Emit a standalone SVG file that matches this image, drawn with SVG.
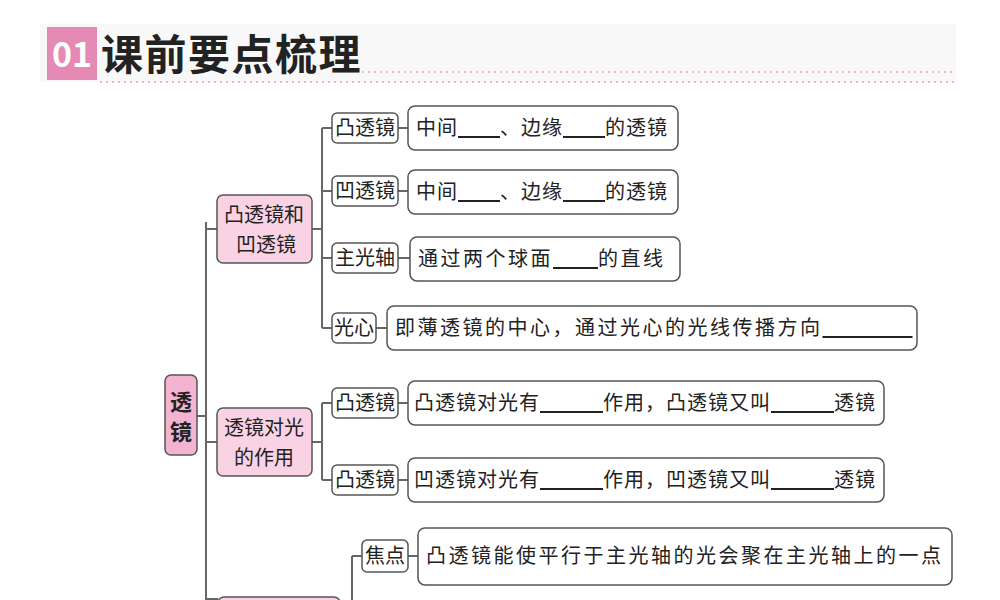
<svg xmlns="http://www.w3.org/2000/svg" width="1000" height="600" viewBox="0 0 1000 600">
<style>
text{font-family:"Noto Sans CJK SC","Liberation Sans",sans-serif;fill:#222}
.t{font-size:20px}
.k{fill:#fff;stroke:#555;stroke-width:1.5}
.p{fill:#f9d3e4;stroke:#555;stroke-width:1.5}
.c{fill:none;stroke:#666;stroke-width:2}
.u{text-decoration:underline}
.s1{letter-spacing:1px}
.s2{letter-spacing:2.5px}
</style>
<rect width="1000" height="600" fill="#fff"/>
<rect x="40" y="24" width="916" height="58" fill="#f8f8f8"/>
<g id="title">
<rect x="47" y="27" width="50" height="53" fill="#e58ab5"/>
<text x="72" y="67" text-anchor="middle" font-size="34" font-weight="bold" style="fill:#fff">01</text>
<text x="101" y="70" font-size="42" font-weight="bold" letter-spacing="1.5">课前要点梳理</text>
<line x1="362" y1="72" x2="955" y2="72" stroke="#f0b5cf" stroke-width="2" stroke-dasharray="2 4"/>
<line x1="100" y1="82" x2="955" y2="82" stroke="#f0b5cf" stroke-width="2" stroke-dasharray="2 4"/>
</g>
<g id="connectors" class="c">
<path d="M197 416H206M206 222V600M206 229H217M206 442H217M206 599H218"/>
<path d="M312 229H322M322 128V328M322 128H332M322 191H332M322 258H332M322 328H332"/>
<path d="M398 128H408M398 191H408M398 258H410M376 328H387"/>
<path d="M312 442H322M322 403V480M322 403H332M322 480H332M398 403H408M398 480H408"/>
<path d="M352 556V600M352 556H362M408 556H418"/>
</g>
<g id="root"><rect x="165" y="375" width="32" height="80" rx="6" fill="#f3b3d1" stroke="#555" stroke-width="1.5"/><text x="181" y="410" text-anchor="middle" font-size="22" font-weight="bold">透</text><text x="181" y="440" text-anchor="middle" font-size="22" font-weight="bold">镜</text></g>
<g id="nA"><rect class="p" x="217" y="195" width="95" height="68" rx="6"/><text class="t" x="264" y="222" text-anchor="middle">凸透镜和</text><text class="t" x="266" y="252" text-anchor="middle">凹透镜</text></g>
<g id="nB"><rect class="p" x="217" y="408" width="95" height="68" rx="6"/><text class="t" x="264" y="435" text-anchor="middle">透镜对光</text><text class="t" x="264" y="465" text-anchor="middle">的作用</text></g>
<g id="nC"><rect class="p" x="218" y="597" width="122" height="20" rx="6"/></g>
<g id="a1"><rect class="k" x="332" y="113" width="66" height="30" rx="5"/><text class="t" x="365" y="135" text-anchor="middle">凸透镜</text></g>
<g id="a2"><rect class="k" x="332" y="176" width="66" height="30" rx="5"/><text class="t" x="365" y="198" text-anchor="middle">凹透镜</text></g>
<g id="a3"><rect class="k" x="332" y="243" width="66" height="30" rx="5"/><text class="t" x="365" y="265" text-anchor="middle">主光轴</text></g>
<g id="a4"><rect class="k" x="332" y="313" width="44" height="30" rx="5"/><text class="t" x="354" y="335" text-anchor="middle">光心</text></g>
<g id="d1"><rect class="k" x="408" y="106" width="270" height="44" rx="7"/><text class="t s1" x="416" y="135">中间<tspan class="u">　　</tspan>、边缘<tspan class="u">　　</tspan>的透镜</text></g>
<g id="d2"><rect class="k" x="408" y="170" width="270" height="44" rx="7"/><text class="t s1" x="416" y="199">中间<tspan class="u">　　</tspan>、边缘<tspan class="u">　　</tspan>的透镜</text></g>
<g id="d3"><rect class="k" x="410" y="237" width="270" height="44" rx="7"/><text class="t s2" x="418" y="266">通过两个球面<tspan class="u">　　</tspan>的直线</text></g>
<g id="d4"><rect class="k" x="387" y="306" width="530" height="44" rx="7"/><text class="t s2" x="395" y="335">即薄透镜的中心，通过光心的光线传播方向<tspan class="u">　　　　</tspan></text></g>
<g id="b1"><rect class="k" x="332" y="388" width="66" height="30" rx="5"/><text class="t" x="365" y="410" text-anchor="middle">凸透镜</text></g>
<g id="b2"><rect class="k" x="332" y="465" width="66" height="30" rx="5"/><text class="t" x="365" y="487" text-anchor="middle">凸透镜</text></g>
<g id="e1"><rect class="k" x="408" y="381" width="476" height="44" rx="7"/><text class="t s1" x="414" y="410">凸透镜对光有<tspan class="u">　　　</tspan>作用，凸透镜又叫<tspan class="u">　　　</tspan>透镜</text></g>
<g id="e2"><rect class="k" x="408" y="458" width="476" height="44" rx="7"/><text class="t s1" x="414" y="487">凹透镜对光有<tspan class="u">　　　</tspan>作用，凹透镜又叫<tspan class="u">　　　</tspan>透镜</text></g>
<g id="c1"><rect class="k" x="362" y="540" width="46" height="32" rx="5"/><text class="t" x="385" y="563" text-anchor="middle">焦点</text></g>
<g id="f1"><rect class="k" x="418" y="528" width="534" height="57" rx="7"/><text class="t s2" x="426" y="563">凸透镜能使平行于主光轴的光会聚在主光轴上的一点</text></g>
</svg>
